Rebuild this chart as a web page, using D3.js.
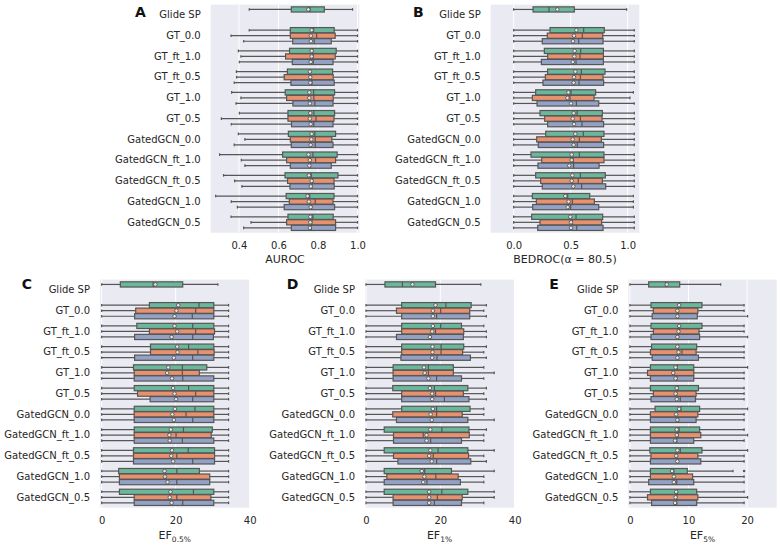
<!DOCTYPE html>
<html><head><meta charset="utf-8">
<script src="https://cdn.jsdelivr.net/npm/d3@7/dist/d3.min.js"></script>
<style>
body{margin:0;background:#fff;}
svg{display:block;}
text{font-family:"DejaVu Sans",sans-serif;}
</style>
</head><body>
<svg id="chart" width="780" height="545"></svg>
<script>
// ---------- data ----------
const categories = ["Glide SP","GT_0.0","GT_ft_1.0","GT_ft_0.5","GT_1.0","GT_0.5",
  "GatedGCN_0.0","GatedGCN_ft_1.0","GatedGCN_ft_0.5","GatedGCN_1.0","GatedGCN_0.5"];
const hueNames = ["h0","h1","h2"];
// each box: [whiskerLow, q1, median, q3, whiskerHigh, mean]
const aurocStats = [
 [[0.452,0.665,0.759,0.832,0.975,0.751]],
 [[0.452,0.660,0.778,0.882,1.0,0.768],[0.360,0.660,0.793,0.887,1.0,0.764],[0.424,0.672,0.781,0.867,1.0,0.764]],
 [[0.397,0.656,0.773,0.892,1.0,0.768],[0.410,0.636,0.776,0.887,1.0,0.768],[0.402,0.670,0.776,0.876,1.0,0.763]],
 [[0.387,0.645,0.761,0.874,1.0,0.759],[0.388,0.629,0.764,0.877,1.0,0.761],[0.376,0.663,0.769,0.882,1.0,0.761]],
 [[0.363,0.634,0.778,0.884,1.0,0.756],[0.410,0.641,0.779,0.877,1.0,0.756],[0.385,0.673,0.784,0.876,1.0,0.759]],
 [[0.402,0.648,0.779,0.884,1.0,0.761],[0.311,0.648,0.790,0.881,1.0,0.759],[0.361,0.666,0.779,0.876,1.0,0.763]],
 [[0.397,0.650,0.784,0.889,1.0,0.768],[0.430,0.660,0.786,0.870,1.0,0.766],[0.376,0.665,0.786,0.876,1.0,0.763]],
 [[0.302,0.621,0.774,0.897,1.0,0.752],[0.412,0.641,0.788,0.889,1.0,0.759],[0.430,0.660,0.761,0.867,1.0,0.756]],
 [[0.322,0.633,0.766,0.901,1.0,0.754],[0.378,0.646,0.773,0.881,1.0,0.768],[0.415,0.658,0.769,0.882,1.0,0.764]],
 [[0.282,0.639,0.758,0.881,1.0,0.747],[0.361,0.655,0.786,0.876,1.0,0.754],[0.392,0.629,0.768,0.884,1.0,0.763]],
 [[0.360,0.648,0.774,0.877,1.0,0.761],[0.461,0.641,0.769,0.889,1.0,0.761],[0.424,0.665,0.766,0.889,1.0,0.759]]
];
const bedrocStats = [
 [[0,0.170,0.310,0.532,0.991,0.383]],
 [[0,0.319,0.614,0.795,1.058,0.550],[0,0.295,0.602,0.781,1.058,0.529],[0,0.251,0.570,0.784,1.058,0.520]],
 [[0,0.269,0.588,0.787,1.058,0.535],[0,0.298,0.582,0.787,1.058,0.532],[0,0.243,0.547,0.787,1.058,0.518]],
 [[0,0.298,0.594,0.801,1.058,0.541],[0,0.278,0.585,0.784,1.058,0.529],[0,0.257,0.573,0.789,1.058,0.526]],
 [[0,0.193,0.503,0.719,1.050,0.480],[0,0.164,0.494,0.705,1.020,0.471],[0,0.205,0.550,0.746,1.058,0.503]],
 [[0,0.231,0.556,0.778,1.058,0.526],[0,0.272,0.585,0.775,1.058,0.518],[0,0.298,0.599,0.789,1.058,0.529]],
 [[0,0.281,0.611,0.792,1.058,0.541],[0,0.202,0.576,0.769,1.058,0.518],[0,0.216,0.558,0.789,1.058,0.526]],
 [[0,0.152,0.576,0.792,1.058,0.509],[0,0.246,0.523,0.792,1.058,0.509],[0,0.213,0.526,0.749,1.058,0.488]],
 [[0,0.193,0.585,0.804,1.058,0.515],[0,0.237,0.567,0.778,1.058,0.509],[0,0.251,0.596,0.807,1.058,0.523]],
 [[0,0.164,0.474,0.667,1.050,0.453],[0,0.199,0.515,0.708,1.050,0.482],[0,0.167,0.500,0.746,1.050,0.474]],
 [[0,0.158,0.547,0.781,1.058,0.497],[0,0.231,0.515,0.772,1.058,0.503],[0,0.211,0.553,0.784,1.058,0.503]]
];
const ef05Stats = [
 [[0,5.05,13.9,21.9,31.4,14.5]],
 [[0,12.9,26.3,30.3,34.3,20.7],[0,9.2,25.4,30.3,34.3,20.2],[0,8.9,24.5,30.3,34.3,19.7]],
 [[0,9.5,24.6,30.3,34.3,19.7],[0,12.9,25.4,30.5,34.3,20.4],[0,8.9,24.6,30.2,34.3,18.9]],
 [[0,13.2,23.5,30.3,34.3,20.4],[0,13.2,26.0,30.4,34.3,20.5],[0,8.9,24.6,30.3,34.3,19.5]],
 [[0,8.6,21.8,28.4,34.3,18.0],[0,8.8,21.8,26.4,34.3,17.7],[0,8.8,21.9,30.3,34.3,19.0]],
 [[0,8.8,23.5,30.3,34.3,19.3],[0,9.7,25.4,30.3,34.3,19.7],[0,13.1,24.6,30.3,34.3,20.1]],
 [[0,8.8,25.2,30.3,34.3,19.8],[0,8.8,22.8,30.3,34.3,19.1],[0,8.8,24.6,30.3,34.3,19.5]],
 [[0,8.8,22.1,29.9,34.3,18.7],[0,8.8,20.1,29.6,34.3,18.3],[0,8.8,21.8,30.3,34.3,18.4]],
 [[0,8.6,23.4,30.5,34.3,19.0],[0,8.6,20.3,30.5,34.3,18.8],[0,8.6,24.6,30.5,34.3,19.3]],
 [[0,4.6,20.3,26.4,34.3,17.0],[0,4.8,17.3,29.2,34.3,17.1],[0,4.8,20.3,29.2,34.3,17.8]],
 [[0,4.8,24.8,30.3,34.3,18.6],[0,8.8,20.3,29.5,34.3,18.4],[0,8.8,21.9,30.3,34.3,18.9]]
];
const ef1Stats = [
 [[0,5.1,9.8,18.7,30.9,12.5]],
 [[0,9.6,21.5,28.3,32.4,18.7],[0,8.2,20.1,27.9,31.7,18.0],[0,9.6,19.0,27.9,32.4,18.0]],
 [[0,9.6,20.1,25.7,31.7,18.0],[0,9.6,18.7,26.3,32.4,17.8],[0,8.2,17.4,26.2,32.4,17.2]],
 [[0,9.6,20.2,26.3,32.4,17.9],[0,9.6,20.2,26.0,31.7,17.9],[0,9.4,19.1,28.1,32.4,17.8]],
 [[0,7.3,16.8,23.5,31.7,15.6],[0,7.3,16.8,23.5,34.5,15.8],[0,7.3,19.0,25.7,31.7,16.8]],
 [[0,7.2,18.4,27.4,32.4,17.2],[0,9.6,18.7,26.2,31.7,17.8],[0,9.6,21.1,27.7,32.4,17.8]],
 [[0,9.6,19.0,28.0,31.7,18.0],[0,7.2,19.0,25.9,31.7,17.4],[0,8.2,17.8,27.4,34.5,17.7]],
 [[0,4.9,20.4,27.7,32.4,17.3],[0,7.4,15.4,27.8,31.7,16.3],[0,7.4,17.4,25.7,31.7,16.3]],
 [[0,4.9,19.4,27.4,34.5,17.3],[0,7.4,18.1,27.6,31.7,17.0],[0,8.6,19.0,28.2,32.4,17.7]],
 [[0,4.9,15.8,23.0,34.5,15.0],[0,5.6,18.8,24.8,31.7,15.7],[0,4.9,16.4,25.4,31.7,15.4]],
 [[0,4.9,20.4,27.4,34.5,17.0],[0,7.3,19.2,25.9,34.5,17.0],[0,7.3,18.4,25.7,31.7,17.0]]
];
const ef5Stats = [
 [[0,3.2,6.1,8.5,15.5,6.3]],
 [[0,3.6,8.5,12.3,19.5,8.4],[0,4.0,8.2,11.6,19.5,8.1],[0,3.8,8.2,11.5,20.1,8.1]],
 [[0,3.6,8.5,12.3,19.5,8.4],[0,4.0,8.4,11.8,19.5,8.3],[0,3.6,8.3,11.9,20.1,8.1]],
 [[0,3.7,8.2,11.4,19.5,8.1],[0,3.5,8.9,11.3,19.5,8.3],[0,3.8,8.2,11.7,19.5,8.1]],
 [[0,3.5,8.1,10.9,20.1,7.8],[0,3.0,7.6,10.9,19.5,7.4],[0,3.5,8.0,10.9,19.5,7.8]],
 [[0,3.5,8.2,11.7,19.5,8.0],[0,4.0,8.0,11.3,19.5,7.8],[0,3.6,8.6,11.2,19.5,8.0]],
 [[0,4.3,8.7,11.9,20.1,8.4],[0,3.5,8.0,11.6,19.5,7.9],[0,3.5,8.3,11.3,19.5,8.1]],
 [[0,3.5,8.4,11.9,19.5,8.0],[0,3.5,8.2,12.1,20.1,8.0],[0,3.5,8.0,10.9,19.5,7.7]],
 [[0,3.4,8.6,12.3,20.1,8.1],[0,3.6,8.0,11.6,19.5,7.9],[0,3.5,8.2,12.1,19.5,8.1]],
 [[0,3.5,7.5,9.8,17.6,7.2],[0,3.5,7.5,10.7,19.5,7.5],[0,3.2,8.0,10.9,19.5,7.5]],
 [[0,3.5,8.1,11.4,19.5,7.9],[0,3.0,8.0,11.6,20.1,7.8],[0,3.7,8.0,11.4,19.5,7.7]]
];
// outliers: [rowIndex, hueIndex, value]
const ef5Fliers = [[9,0,19.5]];
const aurocTicks = [0.4,0.6,0.8,1.0];
const bedrocTicks = [0.0,0.5,1.0];
const ef05Ticks = [0,20,40];
const ef1Ticks = [0,20,40];
const ef5Ticks = [0,10,20];

// ---------- style ----------
const hueColors = ["#6bb79c","#e8916f","#93a1c4"];
const edge = "#565656";
const svg = d3.select("#chart");

const panels = [
 {letter:"A", stats:aurocStats, fliers:[], ticks:aurocTicks, fmt:d3.format(".1f"), domain:[0.257,1.009],
  left:210.7,right:359.3,top:4.6,bottom:232.7, lx:135, ly:16.7, title:["AUROC",null], titleDy:30},
 {letter:"B", stats:bedrocStats, fliers:[], ticks:bedrocTicks, fmt:d3.format(".1f"), domain:[-0.2015,1.102],
  left:490.7,right:639.3,top:4.6,bottom:232.7, lx:413, ly:16.7, title:["BEDROC(α = 80.5)",null], titleDy:30},
 {letter:"C", stats:ef05Stats, fliers:[], ticks:ef05Ticks, fmt:d3.format("d"), domain:[-0.45,39.95],
  left:100,right:249.5,top:279.6,bottom:507.7, lx:21.7, ly:289.3, title:["EF","0.5%"], titleDy:31.5},
 {letter:"D", stats:ef1Stats, fliers:[], ticks:ef1Ticks, fmt:d3.format("d"), domain:[-0.27,39.83],
  left:365,right:514,top:279.6,bottom:507.7, lx:286.7, ly:289.3, title:["EF","1%"], titleDy:31.5},
 {letter:"E", stats:ef5Stats, fliers:ef5Fliers, ticks:ef5Ticks, fmt:d3.format("d"), domain:[-0.28,25.07],
  left:628.3,right:776.7,top:279.6,bottom:507.7, lx:549.3, ly:289.3, title:["EF","5%"], titleDy:31.5}
];

panels.forEach(p => {
  const g = svg.append("g");
  const x = d3.scaleLinear().domain(p.domain).range([p.left,p.right]);
  const y = d3.scaleBand().domain(categories).range([p.top,p.bottom]);
  const bw = y.bandwidth();
  const hy = d3.scaleBand().domain(hueNames).range([bw*0.1, bw*0.9]);
  const boxH = hy.bandwidth()*0.94;
  const capH = boxH*0.5;

  g.append("rect").attr("x",p.left).attr("y",p.top)
   .attr("width",p.right-p.left).attr("height",p.bottom-p.top).attr("fill","#eaeaf2");
  g.selectAll(".grid").data(p.ticks).enter().append("line")
   .attr("x1",d=>x(d)).attr("x2",d=>x(d)).attr("y1",p.top).attr("y2",p.bottom)
   .attr("stroke","#fff").attr("stroke-width",1);

  p.stats.forEach((row,ri) => {
    row.forEach((s,hi) => {
      const cy = y(categories[ri]) + hy(hueNames[hi]) + hy.bandwidth()/2;
      const bg = g.append("g");
      const ln = (x1,x2,y1,y2)=>bg.append("line").attr("x1",x1).attr("x2",x2).attr("y1",y1).attr("y2",y2)
        .attr("stroke",edge).attr("stroke-width",1.2);
      ln(x(s[0]),x(s[1]),cy,cy);
      ln(x(s[3]),x(s[4]),cy,cy);
      ln(x(s[0]),x(s[0]),cy-capH/2,cy+capH/2);
      ln(x(s[4]),x(s[4]),cy-capH/2,cy+capH/2);
      bg.append("rect").attr("x",x(s[1])).attr("y",cy-boxH/2)
        .attr("width",x(s[3])-x(s[1])).attr("height",boxH)
        .attr("fill",hueColors[hi]).attr("stroke",edge).attr("stroke-width",1.2);
      ln(x(s[2]),x(s[2]),cy-boxH/2,cy+boxH/2);
      bg.append("circle").attr("cx",x(s[5])).attr("cy",cy).attr("r",1.8)
        .attr("fill","#e8e8e8").attr("stroke",edge).attr("stroke-width",0.9);
    });
  });
  p.fliers.forEach(f => {
    const cy = y(categories[f[0]]) + hy(hueNames[f[1]]) + hy.bandwidth()/2;
    g.append("circle").attr("cx",x(f[2])).attr("cy",cy).attr("r",1.3).attr("fill",edge);
  });

  const xa = g.append("g").attr("transform",`translate(0,${p.bottom})`)
    .call(d3.axisBottom(x).tickValues(p.ticks).tickFormat(p.fmt).tickSize(0).tickPadding(9.5));
  xa.select(".domain").remove();
  xa.selectAll("text").attr("font-size",10).attr("fill","#262626").attr("font-family","DejaVu Sans, sans-serif");

  const ya = g.append("g").attr("transform",`translate(${p.left},0)`)
    .call(d3.axisLeft(y).tickSize(0).tickPadding(10));
  ya.select(".domain").remove();
  ya.selectAll("text").attr("font-size",10).attr("fill","#262626").attr("font-family","DejaVu Sans, sans-serif");

  const t = g.append("text").attr("x",(p.left+p.right)/2).attr("y",p.bottom+p.titleDy)
    .attr("text-anchor","middle").attr("font-size",11).attr("fill","#262626");
  t.append("tspan").text(p.title[0]);
  if (p.title[1]) t.append("tspan").attr("font-size",7.5).attr("dy",2.5).text(p.title[1]);

  g.append("text").attr("x",p.lx).attr("y",p.ly).attr("font-size",14).attr("font-weight","bold")
   .attr("fill","#111").text(p.letter);
});
</script>
</body></html>
